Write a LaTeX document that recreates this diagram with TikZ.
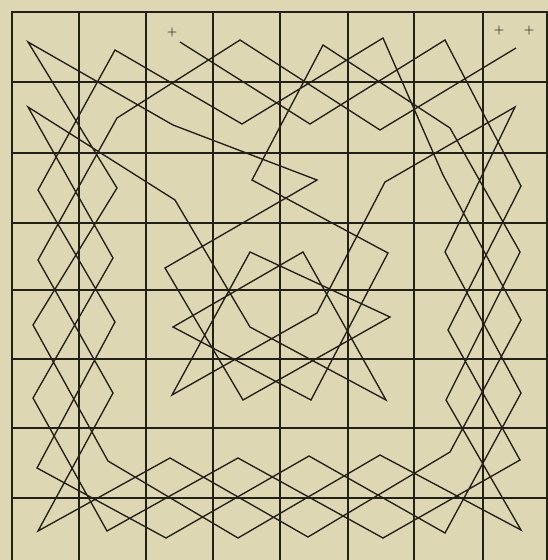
\documentclass[tikz,border=0pt]{standalone}
\usepackage{xcolor}
\definecolor{paper}{RGB}{221,215,180}
\definecolor{ink}{RGB}{35,32,24}
\begin{document}
\begin{tikzpicture}[x=1pt,y=-1pt,
  gridline/.style={draw=ink,line width=1.2pt},
  borderline/.style={draw=ink,line width=2.2pt},
  tourline/.style={draw=ink,line width=1.35pt,line join=miter},
  markstyle/.style={text=ink,font=\bfseries\large,inner sep=0pt}]
\fill[paper] (0,0) rectangle (548,560);
\useasboundingbox (0,0) rectangle (548,560);
% grid
\foreach \x in {79,146,213,280,348,414,483} {\draw[gridline] (\x,12) -- (\x,560);}
\foreach \y in {82,153,223,290,359,428,498} {\draw[gridline] (12,\y) -- (547,\y);}
\draw[borderline] (12,560) -- (12,12) -- (547,12) -- (547,560);
% tour vertices
\coordinate (v00) at (28,42);
\coordinate (v10) at (115,50);
\coordinate (v20) at (180,42);
\coordinate (v30) at (240,40);
\coordinate (v40) at (323,45);
\coordinate (v50) at (383,38);
\coordinate (v60) at (445,40);
\coordinate (v70) at (516,48);
\coordinate (v01) at (28,107);
\coordinate (v11) at (117,118);
\coordinate (v21) at (173,125);
\coordinate (v31) at (242,124);
\coordinate (v41) at (310,124);
\coordinate (v51) at (380,130);
\coordinate (v61) at (450,128);
\coordinate (v71) at (515,107);
\coordinate (v02) at (38,190);
\coordinate (v12) at (117,188);
\coordinate (v22) at (175,200);
\coordinate (v32) at (252,180);
\coordinate (v42) at (317,180);
\coordinate (v52) at (385,182);
\coordinate (v62) at (443,175);
\coordinate (v72) at (521,186);
\coordinate (v03) at (38,260);
\coordinate (v13) at (113,258);
\coordinate (v23) at (165,268);
\coordinate (v33) at (250,252);
\coordinate (v43) at (303,252);
\coordinate (v53) at (388,253);
\coordinate (v63) at (445,252);
\coordinate (v73) at (520,252);
\coordinate (v04) at (33,325);
\coordinate (v14) at (115,322);
\coordinate (v24) at (173,327);
\coordinate (v34) at (250,327);
\coordinate (v44) at (317,313);
\coordinate (v54) at (390,317);
\coordinate (v64) at (448,330);
\coordinate (v74) at (521,320);
\coordinate (v05) at (33,398);
\coordinate (v15) at (113,393);
\coordinate (v25) at (172,395);
\coordinate (v35) at (243,400);
\coordinate (v45) at (311,400);
\coordinate (v55) at (386,400);
\coordinate (v65) at (446,400);
\coordinate (v75) at (521,393);
\coordinate (v06) at (37,468);
\coordinate (v16) at (108,461);
\coordinate (v26) at (170,458);
\coordinate (v36) at (238,458);
\coordinate (v46) at (309,456);
\coordinate (v56) at (380,455);
\coordinate (v66) at (450,452);
\coordinate (v76) at (520,460);
\coordinate (v07) at (38,531);
\coordinate (v17) at (107,531);
\coordinate (v27) at (166,538);
\coordinate (v37) at (238,538);
\coordinate (v47) at (308,537);
\coordinate (v57) at (383,538);
\coordinate (v67) at (445,533);
\coordinate (v77) at (521,530);
% the tour
\draw[tourline] (v20) -- (v41) -- (v60) -- (v72) -- (v64) -- (v76) -- (v57) -- (v36)
  -- (v17) -- (v05) -- (v13) -- (v01) -- (v22) -- (v34) -- (v55) -- (v43)
  -- (v24) -- (v45) -- (v53) -- (v32) -- (v40) -- (v61) -- (v73) -- (v65)
  -- (v77) -- (v56) -- (v37) -- (v16) -- (v04) -- (v12) -- (v00) -- (v21)
  -- (v42) -- (v23) -- (v35) -- (v54) -- (v33) -- (v25) -- (v44) -- (v52)
  -- (v71) -- (v63) -- (v75) -- (v67) -- (v46) -- (v27) -- (v06) -- (v14)
  -- (v02) -- (v10) -- (v31) -- (v50) -- (v62) -- (v74) -- (v66) -- (v47)
  -- (v26) -- (v07) -- (v15) -- (v03) -- (v11) -- (v30) -- (v51) -- (v70);
% marks
\node[markstyle] (m1) at (172,33) {+};
\node[markstyle] (m2) at (499,31) {+};
\node[markstyle] (m3) at (529,31) {+};
\end{tikzpicture}
\end{document}
